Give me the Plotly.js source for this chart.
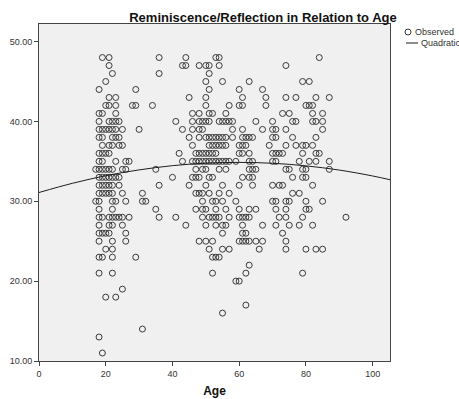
<!DOCTYPE html>
<html>
<head>
<meta charset="utf-8">
<script src="https://cdn.plot.ly/plotly-3.0.1.min.js"></script>
<style>
  html, body { margin: 0; padding: 0; background: #ffffff; }
  #chart { width: 459px; height: 399px; }
</style>
</head>
<body>
<div id="chart"></div>
<script>
// Reminiscence/Reflection score levels and the ages observed at each level
const scoreLevels = [48, 47, 46, 45, 44, 43, 42, 41, 40, 39, 38, 37, 36, 35, 34, 33, 32, 31, 30, 29, 28, 27, 26, 25, 24, 23, 22, 21, 20, 19, 18, 17, 16, 14, 13, 11];
const agesAtLevel = [
  [19, 21, 36, 44, 53, 54, 84],
  [21, 43, 44, 48, 50, 51, 54, 74],
  [22, 36, 51],
  [20, 50, 55, 63, 79, 81],
  [18, 29, 51, 60, 67],
  [21, 23, 45, 50, 61, 68, 74, 77, 83, 87],
  [20, 21, 23, 28, 29, 34, 50, 57, 60, 61, 68, 80, 81, 82],
  [18, 19, 23, 46, 48, 51, 52, 56, 73, 75, 82, 85],
  [18, 21, 22, 23, 24, 41, 46, 48, 49, 50, 51, 54, 55, 56, 57, 58, 65, 70, 76, 77, 82, 83, 85],
  [18, 19, 20, 21, 22, 23, 25, 30, 43, 46, 48, 49, 58, 61, 67, 70, 71, 74, 85],
  [18, 19, 22, 23, 24, 45, 48, 50, 51, 52, 53, 54, 55, 56, 58, 61, 62, 63, 64, 70, 71, 76, 83],
  [19, 21, 22, 24, 25, 46, 51, 52, 53, 54, 55, 56, 60, 61, 62, 69, 74, 77, 79, 80, 82],
  [18, 19, 20, 21, 42, 47, 48, 49, 50, 51, 52, 53, 60, 61, 63, 70, 71, 72, 73, 79, 83, 84],
  [18, 19, 23, 26, 27, 43, 46, 47, 48, 49, 50, 51, 52, 53, 54, 55, 56, 57, 59, 63, 64, 70, 71, 78, 81, 83, 87],
  [17, 18, 19, 20, 21, 22, 25, 26, 35, 47, 49, 50, 54, 56, 63, 64, 65, 74, 75, 79, 80, 87],
  [18, 19, 20, 21, 22, 23, 24, 40, 46, 47, 48, 51, 52, 61, 63, 64, 76, 79, 80],
  [18, 19, 20, 21, 22, 24, 36, 45, 50, 55, 60, 64, 70, 72, 73, 82],
  [18, 19, 20, 21, 22, 25, 31, 47, 48, 49, 51, 54, 57, 76, 78],
  [17, 18, 22, 23, 26, 31, 32, 49, 52, 53, 55, 59, 70, 71, 74, 75, 80, 85],
  [18, 22, 35, 47, 49, 50, 53, 56, 60, 63, 65, 71, 74, 80, 81],
  [18, 19, 21, 22, 23, 24, 25, 27, 36, 41, 49, 51, 52, 53, 54, 57, 60, 61, 62, 63, 72, 74, 79, 92],
  [18, 21, 22, 25, 44, 50, 53, 55, 56, 61, 67, 71, 75, 78, 82],
  [18, 19, 20, 21, 26, 55, 61, 62, 73],
  [18, 22, 26, 48, 50, 52, 60, 61, 62, 63, 65, 67, 74],
  [20, 22, 51, 55, 57, 66, 74, 80, 83, 85],
  [18, 19, 22, 29, 52, 53, 54],
  [63],
  [18, 22, 52, 62, 79],
  [59, 60],
  [25],
  [20, 23],
  [62],
  [55],
  [31],
  [18],
  [19]
];

// Quadratic fit curve
const fitAge = [0, 10, 20, 30, 40, 50, 60, 70, 80, 90, 100, 105.2];
const fitScore = [31.10, 32.25, 33.20, 33.93, 34.46, 34.77, 34.87, 34.76, 34.44, 33.91, 33.17, 32.70];

// Axis ticks
const yTicks = [10, 20, 30, 40, 50];
const xTicks = [0, 20, 40, 60, 80, 100];

const ageVals = [];
const scoreVals = [];
scoreLevels.forEach((s, i) => {
  agesAtLevel[i].forEach(a => { ageVals.push(a); scoreVals.push(s); });
});

const FONT = 'Liberation Sans, Arial, Helvetica, sans-serif';

const traces = [
  {
    type: 'scatter', mode: 'markers', name: 'Observed',
    x: ageVals, y: scoreVals,
    marker: { symbol: 'circle-open', size: 6, color: '#3a3a3a', line: { width: 1, color: '#3a3a3a' } },
    hoverinfo: 'x+y'
  },
  {
    type: 'scatter', mode: 'lines', name: 'Quadratic',
    x: fitAge, y: fitScore,
    line: { color: '#1e1e1e', width: 1, shape: 'spline' },
    hoverinfo: 'skip'
  }
];

const layout = {
  width: 459, height: 399,
  margin: { l: 39, r: 69, t: 24, b: 38, pad: 0 },
  paper_bgcolor: '#ffffff',
  plot_bgcolor: '#f0f0f0',
  showlegend: false,
  font: { family: FONT, size: 9, color: '#333333' },
  title: {
    text: 'Reminiscence/Reflection in Relation to Age',
    font: { family: FONT, size: 13, color: '#111111', weight: 700 },
    xref: 'container', yref: 'container',
    x: 263 / 459, xanchor: 'center',
    y: 1 - 17.5 / 399, yanchor: 'middle'
  },
  xaxis: {
    range: [0, 105.2],
    tickvals: xTicks, ticktext: xTicks.map(String),
    ticks: 'outside', ticklen: 4, tickwidth: 1, tickcolor: '#444444',
    showline: true, linecolor: '#444444', linewidth: 1, mirror: true,
    showgrid: false, zeroline: false,
    tickfont: { family: FONT, size: 9, color: '#333333' },
    title: { text: 'Age', font: { family: FONT, size: 12, color: '#111111', weight: 700 }, standoff: 8 }
  },
  yaxis: {
    range: [10, 52.2],
    tickvals: yTicks, ticktext: yTicks.map(v => v.toFixed(2)),
    ticks: 'outside', ticklen: 4, tickwidth: 1, tickcolor: '#444444',
    showline: true, linecolor: '#444444', linewidth: 1, mirror: true,
    showgrid: false, zeroline: false,
    tickfont: { family: FONT, size: 9, color: '#333333' },
    title: { text: '' }
  },
  shapes: [
    { type: 'circle', xref: 'paper', yref: 'paper',
      x0: (405 - 39) / 351, x1: (411 - 39) / 351,
      y0: (361 - 35) / 337, y1: (361 - 29) / 337,
      line: { color: '#3a3a3a', width: 1 }, fillcolor: 'rgba(0,0,0,0)' },
    { type: 'line', xref: 'paper', yref: 'paper',
      x0: (406 - 39) / 351, x1: (418 - 39) / 351,
      y0: (361 - 43) / 337, y1: (361 - 43) / 337,
      line: { color: '#1e1e1e', width: 1 } }
  ],
  annotations: [
    { text: 'Observed', xref: 'paper', yref: 'paper', x: (413 - 39) / 351, y: (361 - 32) / 337,
      xanchor: 'left', yanchor: 'middle', showarrow: false, font: { family: FONT, size: 9, color: '#333333' } },
    { text: 'Quadratic', xref: 'paper', yref: 'paper', x: (419 - 39) / 351, y: (361 - 43) / 337,
      xanchor: 'left', yanchor: 'middle', showarrow: false, font: { family: FONT, size: 9, color: '#333333' } }
  ]
};

Plotly.newPlot('chart', traces, layout, { displayModeBar: false, staticPlot: true });
</script>
</body>
</html>
